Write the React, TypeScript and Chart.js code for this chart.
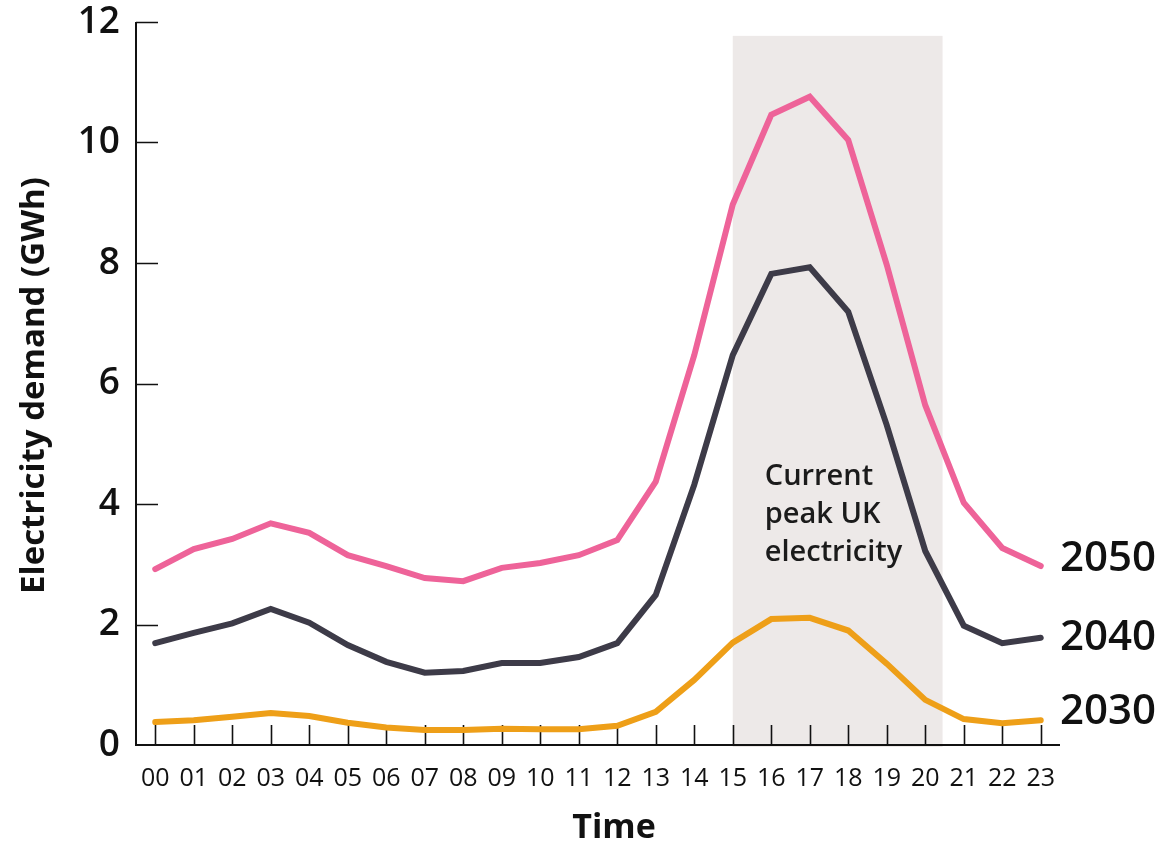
import React, { useEffect, useRef } from "react";
import { Chart, registerables } from "chart.js";

Chart.register(...registerables);

// Hour of day
const HOURS = [
  "00", "01", "02", "03", "04", "05", "06", "07", "08", "09", "10", "11",
  "12", "13", "14", "15", "16", "17", "18", "19", "20", "21", "22", "23",
];

// Electricity demand (GWh) by hour
const DEMAND_2030 = [
  0.38, 0.41, 0.47, 0.53, 0.48, 0.37, 0.29, 0.25, 0.25, 0.27, 0.26, 0.26,
  0.32, 0.55, 1.08, 1.7, 2.09, 2.11, 1.9, 1.35, 0.75, 0.43, 0.36, 0.41,
];
const DEMAND_2040 = [
  1.69, 1.86, 2.02, 2.26, 2.03, 1.66, 1.38, 1.2, 1.23, 1.36, 1.36, 1.46,
  1.69, 2.49, 4.32, 6.47, 7.82, 7.93, 7.19, 5.31, 3.22, 1.98, 1.69, 1.78,
];
const DEMAND_2050 = [
  2.92, 3.25, 3.42, 3.68, 3.52, 3.15, 2.97, 2.77, 2.72, 2.94, 3.02, 3.15,
  3.4, 4.37, 6.47, 8.97, 10.46, 10.76, 10.04, 7.97, 5.64, 4.02, 3.27, 2.97,
];

const SERIES_NAMES = ["2030", "2040", "2050"];
const SERIES_COLORS = ["#EE9F18", "#3D3B48", "#EE6399"];

const Y_TICKS = [0, 2, 4, 6, 8, 10, 12];

// Current peak window (hour positions) and its height on the value axis
const PEAK_START = 15;
const PEAK_END = 20.45;
const PEAK_TOP = 11.77;
const PEAK_LABEL = ["Current", "peak UK", "electricity"];

const FONT = "'Open Sans', 'Noto Sans', sans-serif";

const decorations = {
  id: "decorations",
  beforeDraw(chart: any) {
    const { ctx, chartArea, scales } = chart;
    const x = scales.x;
    const y = scales.y;
    const x0 = x.getPixelForValue(PEAK_START);
    const x1 = x.getPixelForValue(PEAK_END);
    const top = y.getPixelForValue(PEAK_TOP);
    ctx.save();
    ctx.fillStyle = "#EDE9E8";
    ctx.fillRect(x0, top, x1 - x0, chartArea.bottom + 2 - top);
    ctx.restore();
  },
  beforeDatasetsDraw(chart: any) {
    const { ctx, chartArea, scales } = chart;
    const x = scales.x;
    const y = scales.y;
    ctx.save();
    ctx.strokeStyle = "#111111";
    ctx.lineWidth = 2;
    // axis lines
    ctx.beginPath();
    ctx.moveTo(chartArea.left, y.getPixelForValue(12));
    ctx.lineTo(chartArea.left, chartArea.bottom);
    ctx.lineTo(chartArea.right, chartArea.bottom);
    ctx.stroke();
    // inward tick marks
    ctx.beginPath();
    Y_TICKS.forEach((v) => {
      const py = Math.round(y.getPixelForValue(v)) + 0.5;
      if (v === 0) return;
      ctx.moveTo(chartArea.left, py);
      ctx.lineTo(chartArea.left + 22, py);
    });
    HOURS.forEach((_, i) => {
      const px = Math.round(x.getPixelForValue(i)) + 0.5;
      ctx.moveTo(px, chartArea.bottom);
      ctx.lineTo(px, chartArea.bottom - 20);
    });
    ctx.lineWidth = 1.6;
    ctx.stroke();

    // peak window label
    ctx.fillStyle = "#1b1b1b";
    ctx.font = `600 29px ${FONT}`;
    ctx.textAlign = "left";
    ctx.textBaseline = "middle";
    const lx = x.getPixelForValue(PEAK_START) + 32;
    const ly = y.getPixelForValue(4.45);
    PEAK_LABEL.forEach((line, i) => ctx.fillText(line, lx, ly + i * 38));
    ctx.restore();
  },
  afterDraw(chart: any) {
    const { ctx, chartArea, scales } = chart;
    const y = scales.y;
    ctx.save();
    ctx.fillStyle = "#111111";

    // series names at the line ends
    ctx.font = `600 42px ${FONT}`;
    ctx.textAlign = "left";
    ctx.textBaseline = "middle";
    const series = [DEMAND_2030, DEMAND_2040, DEMAND_2050];
    const nudges = [-8, 0, -7];
    series.forEach((s, i) => {
      const py = y.getPixelForValue(s[s.length - 1]) + nudges[i];
      ctx.fillText(SERIES_NAMES[i], chartArea.right, py);
    });

    // axis titles
    ctx.font = `bold 34px ${FONT}`;
    ctx.textAlign = "center";
    ctx.textBaseline = "alphabetic";
    ctx.fillText("Time", 614, 838);

    ctx.translate(35, (chartArea.top + chartArea.bottom) / 2 + 2);
    ctx.rotate(-Math.PI / 2);
    ctx.font = `bold 33px ${FONT}`;
    ctx.textBaseline = "middle";
    ctx.fillText("Electricity demand (GWh)", 0, 0);
    ctx.restore();
  },
};

export default function App() {
  const canvasRef = useRef<HTMLCanvasElement | null>(null);

  useEffect(() => {
    const canvas = canvasRef.current;
    if (!canvas) return;
    const chart = new Chart(canvas, {
      type: "line",
      data: {
        labels: HOURS,
        datasets: [DEMAND_2050, DEMAND_2040, DEMAND_2030].map((d, k) => {
          const i = 2 - k;
          return {
            label: SERIES_NAMES[i],
            data: d,
            borderColor: SERIES_COLORS[i],
            backgroundColor: SERIES_COLORS[i],
            borderWidth: 6,
            pointRadius: 0,
            tension: 0,
            borderCapStyle: "round" as const,
            borderJoinStyle: "miter" as const,
            clip: false as any,
          };
        }),
      },
      options: {
        animation: false,
        responsive: true,
        maintainAspectRatio: false,
        layout: { padding: { top: 22, right: 106, bottom: 0, left: 0 } },
        plugins: {
          legend: { display: false },
          tooltip: { enabled: false },
          title: { display: false },
        },
        scales: {
          x: {
            type: "category",
            offset: true,
            grid: { display: false, drawTicks: false },
            border: { display: false },
            ticks: {
              autoSkip: false,
              maxRotation: 0,
              padding: 19,
              color: "#111111",
              font: { family: FONT, size: 25, weight: "normal" },
            },
            afterFit(scale: any) {
              scale.height = 99;
              scale.paddingLeft = 0;
              scale.paddingRight = 0;
            },
          },
          y: {
            min: 0,
            max: 12,
            grid: { display: false, drawTicks: false },
            border: { display: false },
            ticks: {
              stepSize: 2,
              padding: 16,
              color: "#111111",
              font: { family: FONT, size: 37, weight: 600 as any },
            },
            afterFit(scale: any) {
              scale.width = 136;
              scale.paddingTop = 0;
              scale.paddingBottom = 0;
            },
          },
        },
      },
      plugins: [decorations],
    });
    return () => chart.destroy();
  }, []);

  return (
    <div style={{ position: "absolute", left: 0, top: 0, width: 1166, height: 844, background: "#ffffff" }}>
      <canvas ref={canvasRef} />
    </div>
  );
}
